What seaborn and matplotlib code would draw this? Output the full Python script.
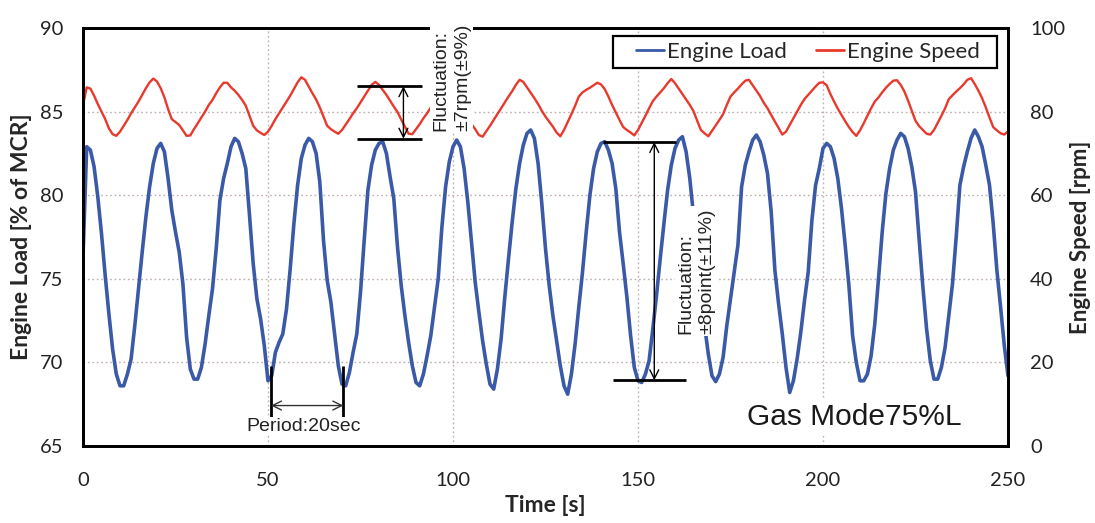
import numpy as np
import pandas as pd
import matplotlib
matplotlib.use("Agg")
import matplotlib.pyplot as plt
from matplotlib.patches import Rectangle
import seaborn as sns

# ---------------- data ----------------
time_s = list(range(0, 251))

engine_load = [
    76.3, 82.9, 82.7, 81.7, 79.9, 77.7, 75.2, 72.9, 70.8, 69.3,
    68.6, 68.6, 69.3, 70.2, 72.2, 74.4, 76.6, 78.7, 80.5, 81.9,
    82.8, 83.1, 82.6, 81.0, 79.1, 77.8, 76.6, 74.7, 71.5, 69.6,
    69.0, 69.0, 69.7, 71.1, 72.8, 74.4, 76.8, 79.7, 81.0, 81.9,
    82.9, 83.4, 83.2, 82.5, 81.6, 78.8, 75.9, 73.8, 72.6, 71.0,
    68.9, 69.2, 70.6, 71.2, 71.7, 73.2, 75.6, 78.3, 80.6, 82.2,
    83.0, 83.4, 83.2, 82.5, 80.8, 77.3, 74.9, 73.6, 71.7, 69.8,
    68.7, 68.6, 69.4, 70.6, 71.7, 74.2, 77.3, 80.3, 81.8, 82.7,
    83.1, 83.2, 82.5, 81.1, 79.8, 76.9, 74.6, 72.8, 71.2, 69.8,
    68.8, 68.6, 69.3, 70.4, 71.6, 73.3, 75.0, 78.1, 80.5, 82.0,
    82.9, 83.3, 82.9, 81.6, 79.6, 77.2, 74.8, 73.0, 71.3, 69.9,
    68.7, 68.4, 69.6, 71.4, 73.9, 76.2, 78.4, 80.4, 81.9, 83.0,
    83.7, 83.9, 83.4, 81.9, 79.5, 76.8, 74.6, 72.8, 71.3, 69.8,
    68.6, 68.1, 69.3, 71.1, 73.3, 75.4, 77.8, 80.0, 81.6, 82.6,
    83.1, 83.2, 82.7, 81.9, 80.4, 77.8, 75.9, 73.9, 71.6, 69.7,
    68.9, 68.8, 69.3, 70.1, 72.0, 74.0, 76.2, 78.3, 80.3, 81.8,
    82.8, 83.3, 83.5, 82.6, 81.0, 78.8, 76.5, 74.2, 72.2, 70.5,
    69.2, 68.85, 69.3, 70.3, 72.2, 73.8, 75.4, 77.0, 80.5, 81.8,
    82.6, 83.3, 83.6, 83.2, 82.4, 81.3, 79.0, 75.5, 73.5, 71.7,
    69.7, 68.2, 68.9, 70.2, 71.8, 73.7, 75.4, 78.5, 80.6, 81.6,
    82.8, 83.1, 82.9, 82.2, 81.0, 79.2, 77.0, 74.6, 71.6, 70.0,
    68.9, 68.9, 69.3, 70.4, 72.3, 75.0, 77.8, 80.1, 81.6, 82.7,
    83.3, 83.7, 83.5, 82.8, 81.7, 80.2, 77.3, 74.5, 72.0, 70.1,
    69.0, 69.0, 69.7, 70.9, 72.8, 74.7, 77.5, 80.6, 81.7, 82.6,
    83.4, 83.9, 83.5, 82.9, 81.8, 80.6, 78.3, 75.5, 73.3, 71.0,
    69.2,
]

engine_speed = [
    81.5, 85.8, 85.5, 83.8, 81.8, 80.0, 78.2, 76.0, 74.6, 74.2,
    75.2, 76.6, 78.0, 79.6, 81.0, 82.4, 84.0, 85.6, 87.0, 87.9,
    87.2, 85.6, 83.4, 80.6, 78.2, 77.5, 76.8, 75.5, 74.2, 74.3,
    75.8, 77.2, 78.6, 80.0, 81.6, 82.8, 84.4, 85.8, 86.9, 86.9,
    85.8, 85.0, 84.0, 82.8, 81.4, 79.0, 76.6, 75.5, 74.9, 74.4,
    75.2, 76.6, 78.2, 79.6, 81.0, 82.4, 83.8, 85.4, 87.0, 88.2,
    87.6, 86.0, 84.4, 82.9, 81.0, 78.8, 76.6, 75.8, 75.2, 74.7,
    75.6, 76.9, 78.2, 79.6, 80.8, 82.2, 83.6, 85.0, 86.4, 87.1,
    86.4, 85.2, 84.0, 82.6, 81.2, 79.9, 78.1, 76.4, 74.7, 74.6,
    75.8, 77.0, 78.4, 79.6, 81.0, 82.6, 84.2, 85.8, 87.2, 87.4,
    86.0, 84.2, 82.4, 80.6, 78.8, 77.0, 75.8, 74.4, 74.0, 75.3,
    76.6, 78.0, 79.4, 80.8, 82.2, 83.6, 84.9, 86.4, 87.6, 87.1,
    85.8, 84.5, 83.2, 81.8, 80.2, 78.8, 77.6, 76.4, 75.0, 74.1,
    75.6, 77.5, 79.4, 81.4, 83.6, 84.6, 85.2, 85.7, 86.3, 86.9,
    86.5, 85.4, 83.6, 81.6, 79.8, 78.0, 76.3, 75.6, 75.0, 74.3,
    75.6, 77.3, 79.0, 80.8, 82.5, 83.6, 84.6, 85.6, 86.8, 87.8,
    86.8, 85.5, 84.2, 82.9, 81.6, 80.1, 77.8, 75.6, 74.8, 74.1,
    75.4, 76.7, 78.0, 79.4, 81.6, 83.6, 84.6, 85.5, 86.5, 87.4,
    87.6, 86.3, 85.0, 83.7, 82.1, 80.8, 79.2, 77.6, 76.1, 74.5,
    75.2, 76.8, 78.4, 80.0, 81.6, 83.0, 84.0, 85.0, 86.0, 86.9,
    87.0, 86.3, 84.2, 82.4, 80.7, 79.2, 77.7, 76.3, 75.1, 74.2,
    75.5, 77.2, 79.0, 80.8, 82.4, 83.4, 84.6, 85.7, 86.6, 87.4,
    87.5, 86.4, 84.8, 82.6, 80.2, 77.8, 76.5, 75.6, 74.7, 74.5,
    75.6, 77.3, 79.0, 80.8, 83.0, 83.9, 84.8, 85.6, 86.5, 87.6,
    88.0, 86.6, 85.0, 83.2, 81.0, 78.6, 76.3, 75.5, 74.8, 74.5,
    75.3,
]

x_ticks = [0, 50, 100, 150, 200, 250]
load_ticks = [65, 70, 75, 80, 85, 90]
speed_ticks = [0, 20, 40, 60, 80, 100]

series_labels = ["Engine Load", "Engine Speed"]
x_label = "Time [s]"
load_label = "Engine Load [% of MCR]"
speed_label = "Engine Speed [rpm]"
speed_note = "Fluctuation:\n\u00b17rpm(\u00b19%)"
load_note = "Fluctuation:\n\u00b18point(\u00b111%)"
period_note = "Period:20sec"
mode_note = "Gas Mode75%L"

# ---------------- style ----------------
BLUE = "#3a5aa8"
RED = "#e8392d"
GRID = "#bfaeae"
ANNO_FONT = ["Liberation Sans", "DejaVu Sans"]

sns.set_theme(style="white")
plt.rcParams["font.family"] = ["Lato", "DejaVu Sans"]

W, H = 1095, 523
fig = plt.figure(figsize=(W / 100, H / 100), dpi=100)
ax1 = fig.add_axes([83 / W, 1 - 446 / H, 925 / W, 418 / H])
ax2 = ax1.twinx()

df = pd.DataFrame({"Time": time_s, "Load": engine_load, "Speed": engine_speed})
sns.lineplot(data=df, x="Time", y="Load", ax=ax1, color=BLUE, linewidth=2.6,
             legend=False)
sns.lineplot(data=df, x="Time", y="Speed", ax=ax2, color=RED, linewidth=1.7,
             legend=False)

ax1.set_xlim(0, 250)
ax1.set_ylim(65, 90)
ax2.set_ylim(0, 100)
ax1.set_xticks(x_ticks)
ax1.set_yticks(load_ticks)
ax2.set_yticks(speed_ticks)

ax1.grid(True, color=GRID, linestyle=(0, (1.2, 2.0)), linewidth=1.0)
ax2.grid(False)
ax1.set_axisbelow(True)

for ax in (ax1, ax2):
    for s in ax.spines.values():
        s.set_color("black")
        s.set_linewidth(2.0)
    ax.tick_params(length=0, labelsize=14.5, colors="#222222")
ax1.tick_params(axis="x", pad=19)
ax1.tick_params(axis="y", pad=14)
ax2.tick_params(axis="y", pad=16)

ax1.set_xlabel(x_label, fontsize=16.5, fontweight="bold", labelpad=4)
ax1.set_ylabel(load_label, fontsize=16.5, fontweight="bold", labelpad=6)
ax2.set_ylabel(speed_label, fontsize=16, fontweight="bold", labelpad=3)

# legend: frame drawn as a rectangle so its inner margins match the reference
ax2.add_patch(Rectangle((0.573, 0.9043), 0.415, 0.0766, transform=ax2.transAxes,
                        facecolor="white", edgecolor="black", linewidth=1.6,
                        zorder=7, clip_on=False))
h1 = ax1.get_lines()[0]
h2 = ax2.get_lines()[0]
leg = ax2.legend([h1, h2], series_labels, ncol=2, loc="center",
                 bbox_to_anchor=(0.784, 0.9426), borderaxespad=0,
                 fontsize=16, frameon=False, handlelength=1.25,
                 handletextpad=0.15, columnspacing=1.3, borderpad=0.0)
leg.set_zorder(8)
for lh in leg.get_lines():
    lh.set_linewidth(2.0)


def rpm(load):
    return (load - 65) * 4


# ---------------- annotations (on top axis, speed units) ----------------
# speed fluctuation bracket
ax2.plot([74.0, 91.5], [rpm(86.52)] * 2, color="black", lw=2, zorder=5,
         solid_capstyle="butt")
ax2.plot([74.0, 91.5], [rpm(83.38)] * 2, color="black", lw=2, zorder=5,
         solid_capstyle="butt")
ax2.annotate("", xy=(86.6, rpm(86.52)), xytext=(86.6, rpm(83.38)),
             arrowprops=dict(arrowstyle="<->", color="black", lw=1.0,
                             mutation_scale=16, shrinkA=0, shrinkB=0),
             zorder=5)
ax2.text(99.7, rpm(83.85), speed_note, rotation=90, ha="center", va="bottom",
         multialignment="left", fontsize=14, family=ANNO_FONT, color="#222222",
         linespacing=1.35, clip_on=False, zorder=6,
         bbox=dict(boxstyle="square,pad=0.12", facecolor="white",
                   edgecolor="none"))

# load fluctuation bracket
ax2.plot([140.5, 160.3], [rpm(83.18)] * 2, color="black", lw=2, zorder=5,
         solid_capstyle="butt")
ax2.plot([143.2, 163.0], [rpm(68.93)] * 2, color="black", lw=2, zorder=5,
         solid_capstyle="butt")
ax2.annotate("", xy=(154.4, rpm(83.18)), xytext=(154.4, rpm(68.93)),
             arrowprops=dict(arrowstyle="<->", color="black", lw=1.0,
                             mutation_scale=16, shrinkA=0, shrinkB=0),
             zorder=5)
ax2.text(165.8, rpm(71.7), load_note, rotation=90, ha="center", va="bottom",
         multialignment="left", fontsize=14, family=ANNO_FONT, color="#222222",
         linespacing=1.35, zorder=6,
         bbox=dict(boxstyle="square,pad=0.12", facecolor="white",
                   edgecolor="none"))

# period bracket
for xp in (50.8, 70.35):
    ax2.plot([xp, xp], [rpm(69.8), rpm(66.7)], color="black", lw=2, zorder=5,
             solid_capstyle="butt")
ax2.annotate("", xy=(50.8, rpm(67.42)), xytext=(70.35, rpm(67.42)),
             arrowprops=dict(arrowstyle="<->", color="#333333", lw=1.0,
                             mutation_scale=16, shrinkA=0, shrinkB=0),
             zorder=5)
ax2.text(59.6, rpm(66.14), period_note, ha="center", va="center",
         fontsize=14, family=ANNO_FONT, color="#222222", zorder=6,
         bbox=dict(boxstyle="square,pad=0.05", facecolor="white",
                   edgecolor="none"))

# mode label
ax2.text(208.4, rpm(66.75), mode_note, ha="center", va="center",
         fontsize=21.5, family=ANNO_FONT, color="#1a1a1a", zorder=6,
         bbox=dict(boxstyle="square,pad=0.15", facecolor="white",
                   edgecolor="none"))

fig.savefig("out.png", dpi=100, facecolor="white")
